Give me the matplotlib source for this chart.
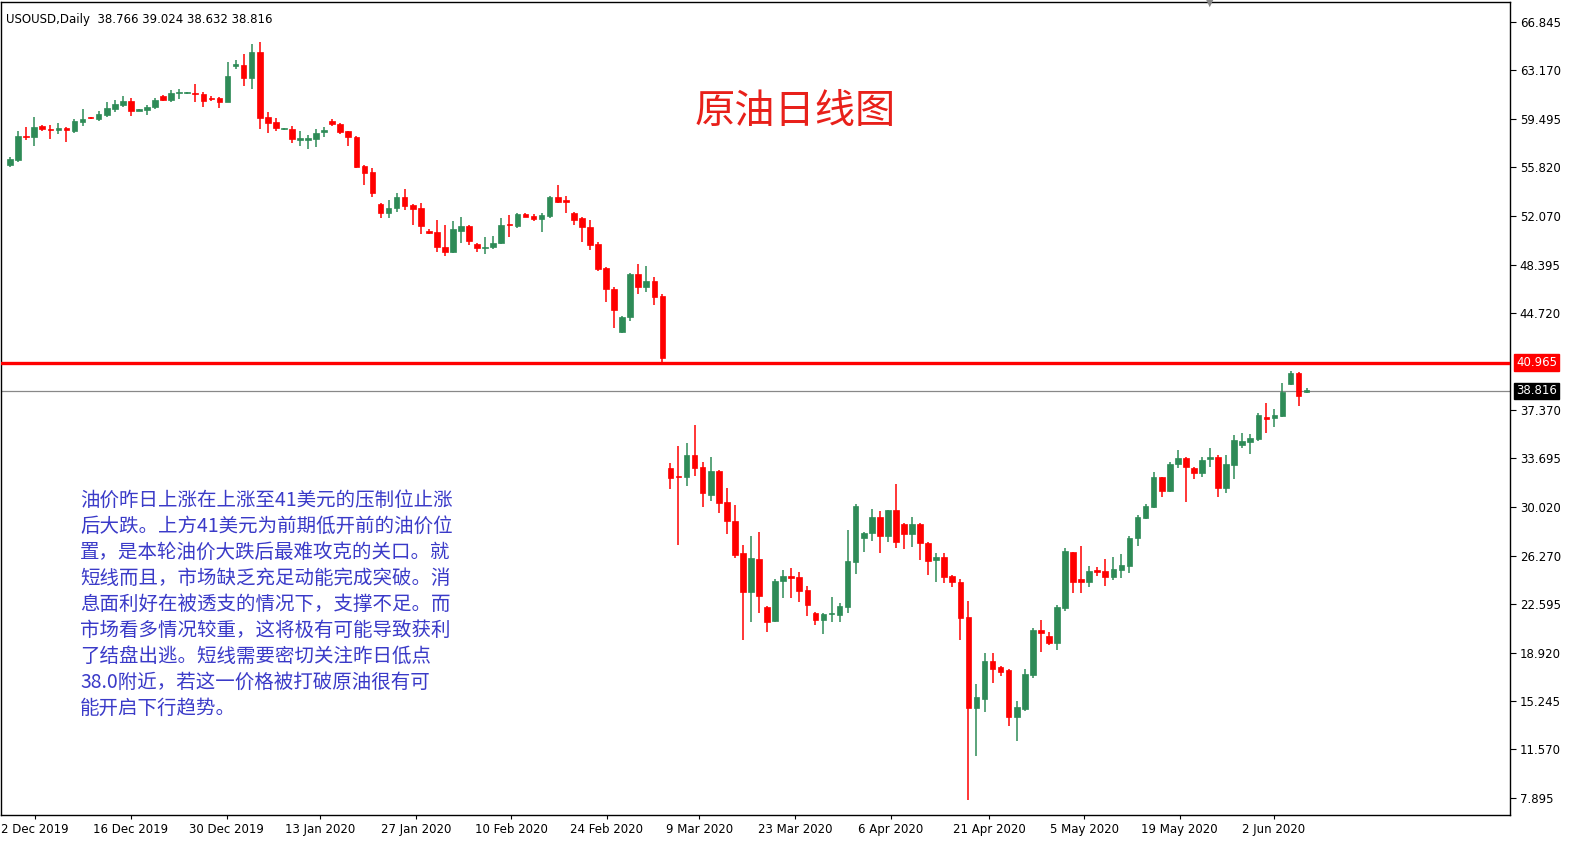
import matplotlib
matplotlib.use("Agg")
import matplotlib.pyplot as plt
import matplotlib.transforms as mtrans
import numpy as np

opens = [56.0,56.36,58.2,58.11,58.94,58.71,58.63,58.79,58.56,59.25,59.6,59.48,59.78,60.24,60.54,60.84,60.1,60.16,60.39,61.22,
 60.92,61.43,61.45,61.47,61.38,61.07,61.07,60.77,63.5,63.58,62.59,64.56,59.63,59.25,58.71,58.71,57.9,57.9,57.95,58.48,
 59.33,59.1,58.56,58.1,55.9,55.45,53.0,52.33,52.7,53.55,52.94,52.7,50.96,50.89,49.75,49.37,50.96,51.34,49.98,49.67,
 49.75,50.05,51.45,51.34,52.25,52.1,51.88,52.1,53.55,53.25,52.33,51.96,51.27,49.98,48.16,46.55,43.29,44.41,47.7,46.71,
 47.17,46.02,32.95,32.3,32.27,33.94,33.03,30.9,32.73,30.37,28.93,26.5,23.53,26.04,22.39,21.33,24.37,24.75,24.67,23.69,
 21.94,21.4,21.86,21.79,22.39,25.81,27.63,28.01,29.23,27.79,29.76,28.7,27.94,28.7,27.25,25.96,26.19,24.75,24.29,21.63,
 14.72,15.4,18.29,17.83,17.6,14.03,14.65,17.22,20.64,20.19,19.66,22.31,26.57,24.52,24.29,25.2,25.13,24.67,25.2,25.51,
 27.63,29.15,30.0,32.27,31.2,33.26,33.71,32.95,32.57,33.64,33.79,31.44,33.18,34.7,34.93,35.16,36.83,36.75,36.9,39.33,
 40.2,38.766]
highs = [56.6,58.6,58.87,59.63,59.0,59.02,59.17,58.87,59.5,60.24,59.63,60.1,60.77,60.92,61.22,61.07,60.2,60.54,61.07,61.3,
 61.68,61.75,61.5,62.13,61.53,61.2,61.15,63.8,63.95,64.41,65.17,65.32,60.01,59.55,58.8,58.94,58.56,58.25,58.71,58.87,
 59.48,59.17,58.6,58.15,55.95,55.75,53.1,53.32,53.86,54.16,53.0,53.1,51.1,51.8,51.42,51.72,52.03,51.4,50.05,50.5,
 50.58,51.96,52.18,52.33,52.3,52.25,52.3,53.6,54.46,53.63,52.4,52.03,51.8,50.13,48.24,46.71,44.49,47.8,48.47,48.31,
 47.47,46.17,33.33,34.63,34.86,36.22,33.41,33.79,32.8,31.43,30.14,27.1,27.79,28.09,22.45,24.52,25.2,25.36,25.05,24.0,
 22.0,21.94,23.15,22.69,28.24,30.22,28.1,29.84,29.69,29.8,31.74,28.75,29.23,28.75,27.3,26.5,26.5,24.8,24.52,22.85,
 16.54,18.9,18.9,17.9,17.65,15.25,17.68,20.8,21.4,20.49,22.54,26.88,26.6,27.03,25.51,25.43,26.04,26.19,26.42,27.79,
 29.38,30.22,32.65,32.3,33.41,34.32,33.8,33.0,33.79,34.48,33.94,33.94,35.46,35.61,35.54,37.14,37.9,37.44,39.41,40.3,
 40.25,39.024]
lows = [55.8,56.2,57.9,57.42,58.6,57.95,58.33,57.73,58.4,58.94,59.5,59.33,59.63,60.01,60.39,59.7,60.05,59.78,60.24,60.84,
 60.77,60.99,61.4,60.77,60.39,60.84,60.31,60.77,63.27,61.98,61.75,58.71,58.41,58.56,58.65,57.65,57.42,57.2,57.35,58.11,
 58.94,58.33,57.42,55.75,54.46,53.55,51.96,51.96,52.4,52.55,51.42,50.73,50.73,49.37,49.06,49.3,50.05,49.9,49.37,49.22,
 49.6,49.98,50.5,51.2,52.0,51.72,50.89,51.96,53.1,52.33,51.42,50.13,49.52,47.93,45.57,43.57,43.2,44.1,46.17,46.33,
 45.34,40.78,31.36,27.1,31.59,32.35,29.99,30.45,29.54,27.94,26.12,19.9,21.25,21.94,20.49,21.25,23.07,23.07,22.77,21.71,
 21.03,20.34,21.25,21.25,21.94,24.9,26.57,27.4,26.5,27.33,26.88,26.8,26.95,25.96,24.82,24.29,24.21,23.91,19.88,7.73,
 11.07,14.41,16.62,17.15,13.35,12.21,14.49,16.99,18.97,19.5,19.13,22.09,23.46,23.46,23.91,24.75,23.99,24.44,24.6,24.98,
 27.03,29.08,29.92,30.75,31.13,32.95,30.37,32.12,32.27,33.03,30.75,31.05,32.12,34.48,34.02,35.0,35.61,36.07,36.83,39.25,
 37.67,38.632]
closes = [56.4,58.18,58.1,58.87,58.71,58.63,58.79,58.63,59.3,59.48,59.55,59.86,60.31,60.62,60.84,60.08,60.16,60.39,60.92,60.92,
 61.45,61.47,61.47,61.38,60.84,61.0,60.77,62.74,63.65,62.59,64.56,59.55,59.17,58.79,58.75,57.95,57.95,57.95,58.41,58.63,
 59.1,58.48,58.1,55.83,55.37,53.86,52.33,52.7,53.55,52.86,52.63,51.34,50.81,49.75,49.37,51.12,51.34,50.2,49.67,49.75,
 50.05,51.42,51.4,52.25,52.03,51.88,52.18,53.55,53.17,53.2,51.8,51.27,49.9,48.08,46.55,44.95,44.41,47.7,46.71,47.17,
 45.95,41.3,32.19,32.27,33.94,32.95,31.05,32.73,30.3,28.93,26.34,23.53,26.12,23.23,21.25,24.37,24.75,24.6,23.61,22.54,
 21.4,21.86,21.9,22.45,25.89,30.07,28.02,29.23,27.79,29.76,27.33,27.94,28.7,27.25,25.89,26.19,24.67,24.29,21.56,14.72,
 15.55,18.29,17.68,17.45,14.03,14.8,17.3,20.64,20.42,19.66,22.39,26.65,24.29,24.29,25.13,25.05,24.67,25.28,25.58,27.63,
 29.23,30.07,32.27,31.2,33.26,33.71,33.03,32.57,33.56,33.79,31.44,33.26,35.08,35.0,35.23,36.98,36.68,36.98,38.73,40.2,
 38.43,38.816]

date_labels = ["2 Dec 2019","16 Dec 2019","30 Dec 2019","13 Jan 2020","27 Jan 2020","10 Feb 2020","24 Feb 2020",
               "9 Mar 2020","23 Mar 2020","6 Apr 2020","21 Apr 2020","5 May 2020","19 May 2020","2 Jun 2020"]
date_pos = [3.1,15.0,26.9,38.5,50.4,62.25,74.1,85.6,97.5,109.4,121.6,133.4,145.25,156.9]
price_ticks = [66.845,63.170,59.495,55.820,52.070,48.395,44.720,37.370,33.695,30.020,26.270,22.595,18.920,15.245,11.570,7.895]
resistance = 40.965
last_price = 38.816

GREEN = "#2e8b57"
RED = "#ff0000"

W, H = 1586, 847
fig = plt.figure(figsize=(W/100, H/100), dpi=100)
ax = fig.add_axes([1/W, (H-815)/H, (1510-1)/W, (815-2)/H])

n = len(opens)
x = np.arange(n)
o = np.array(opens); c = np.array(closes); hi = np.array(highs); lo = np.array(lows)
up = c >= o
cols = np.where(up, GREEN, RED)
ax.vlines(x, lo, hi, colors=cols, linewidth=1.1, zorder=3)
bottoms = np.minimum(o, c)
heights = np.maximum(np.abs(c - o), 0.1)
ax.bar(x, heights, bottom=bottoms, width=0.7, color=cols, edgecolor=cols, linewidth=0.5, zorder=4)

ax.axhline(resistance, color=RED, linewidth=2.4, zorder=5)
ax.axhline(last_price, color="#888888", linewidth=0.9, zorder=2)

ax.set_xlim(-1.125, 186.25)
ax.set_ylim(68.517 - 815/13.16, 68.517 - 2/13.16)

ax.yaxis.tick_right()
ax.set_yticks(price_ticks)
ax.set_yticklabels([f"{v:.3f}" for v in price_ticks], fontsize=8.5)
ax.tick_params(axis="y", direction="out", length=4, pad=3)
ax.set_xticks(date_pos)
ax.set_xticklabels(date_labels, fontsize=8.5)
ax.tick_params(axis="x", direction="out", length=3, pad=3)
for s in ax.spines.values():
    s.set_color("black"); s.set_linewidth(1)

tr = mtrans.blended_transform_factory(ax.transAxes, ax.transData)
ax.text(1.004, resistance, f"{resistance:.3f}", transform=tr, color="white", fontsize=8.5, va="center", ha="left",
        bbox=dict(boxstyle="square,pad=0.15", fc=RED, ec=RED), zorder=10, clip_on=False)
ax.text(1.004, last_price, f"{last_price:.3f}", transform=tr, color="white", fontsize=8.5, va="center", ha="left",
        bbox=dict(boxstyle="square,pad=0.15", fc="black", ec="black"), zorder=10, clip_on=False)

fig.text(6/W, 1-20/H, "USOUSD,Daily  38.766 39.024 38.632 38.816", fontsize=8.5, va="center", ha="left")
fig.text(1210/W, 1-3/H, "▼", fontsize=7, color="#888888", va="center", ha="center")

fig.text(795/W, 1-112/H, "原油日线图", fontsize=29, color="#e8201a", va="center", ha="center",
         family=["Noto Sans CJK SC", "DejaVu Sans"])

para = ["油价昨日上涨在上涨至41美元的压制位止涨",
        "后大跌。上方41美元为前期低开前的油价位",
        "置，是本轮油价大跌后最难攻克的关口。就",
        "短线而且，市场缺乏充足动能完成突破。消",
        "息面利好在被透支的情况下，支撑不足。而",
        "市场看多情况较重，这将极有可能导致获利",
        "了结盘出逃。短线需要密切关注昨日低点",
        "38.0附近，若这一价格被打破原油很有可",
        "能开启下行趋势。"]
for i, line in enumerate(para):
    fig.text(80/W, 1-(500+26*i)/H, line, fontsize=14, color="#3a3ac8", va="center", ha="left",
             family=["Noto Sans CJK SC", "DejaVu Sans"])

fig.savefig("out.png", dpi=100, facecolor="white")
